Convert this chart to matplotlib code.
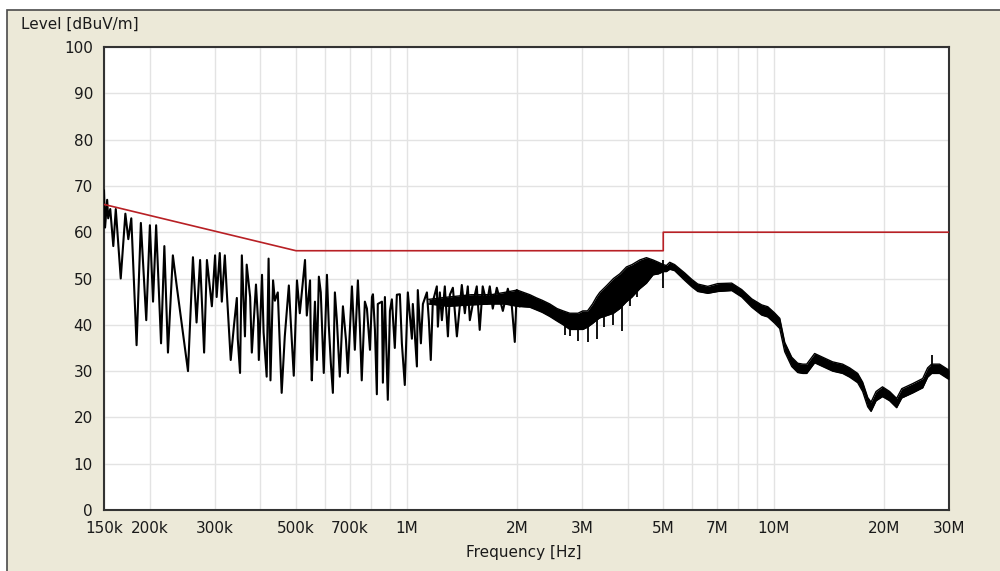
import numpy as np
import matplotlib.pyplot as plt
from matplotlib.patches import Rectangle

# spiky part of the measured trace, 150 kHz .. 2 MHz (kHz, dBuV/m)
trace_khz = [150, 151, 153, 154, 156, 159, 161.5, 166.6, 171.5, 174.7, 178, 184, 189, 195.5,
             200, 204, 208, 214.5, 219, 224, 231, 237, 254, 262, 268, 274, 281,
             286, 295, 301, 304, 310, 314, 320, 324, 332, 339, 345, 347, 352, 356, 363,
             367, 375, 379, 389, 394, 396, 404, 408, 416, 421, 426, 433, 438, 446, 457,
             466, 472, 478, 484, 493, 503, 512, 529, 535, 546,
             549, 552, 563, 570, 577, 584, 595, 607, 614, 622, 630, 638, 646, 658, 671,
             684, 692, 710, 723, 732, 737, 746, 755, 770, 780, 795, 805, 810, 820, 830,
             835, 857, 862, 873, 889, 901, 912, 929, 941, 959, 971, 989, 1008, 1034,
             1040, 1067, 1073, 1094, 1108, 1136, 1150, 1164, 1179, 1209, 1217, 1232,
             1248, 1271, 1296, 1312, 1337, 1371, 1414, 1441, 1468, 1487, 1515, 1553,
             1582, 1612, 1654, 1685, 1717, 1761, 1829, 1887, 1935, 1971, 1996, 2034]
trace_db = [69, 61, 67, 63, 65, 57, 65, 50, 64, 58.5, 63, 35.6, 62, 41,
            61.5, 45, 61.5, 36, 57, 34, 55, 48, 30, 54.6, 40.5, 54, 34,
            54, 44, 55, 46, 55.5, 45, 55, 47, 32.4, 40, 45.8, 37, 29.6, 55, 37.5,
            53, 46, 34, 48.7, 41, 32.4, 50.8, 38.4, 28.8, 54.3, 28, 49.6, 45.2, 47, 25.3,
            37.5, 43, 48.5, 40.4, 29, 49.6, 42.5, 54, 42, 49.6,
            34, 28, 45, 32.4, 50.4, 47, 29.6, 50.8, 40, 31.7, 25.3, 47, 41, 28.8, 44,
            36.7, 29.6, 48.3, 34.6, 44, 49.6, 40, 28, 45, 43.5, 34.6, 46, 46.6, 39, 25,
            44.5, 45, 27.5, 46, 23.8, 43, 45.5, 35, 46.5, 46.6, 36, 27, 47, 37,
            44.5, 31, 47.5, 36, 44.5, 47, 41, 32.4, 45, 48.3, 39.6, 47,
            41, 48.3, 37.5, 46.5, 48, 37.5, 48.6, 42.5, 48.3, 41, 44.5, 48.3,
            38.9, 48.3, 44.5, 48.3, 43.5, 48, 43, 47.8, 44, 36.3, 47.5, 44]

# dense band of the trace, 1.15 MHz .. 30 MHz (upper / lower edge)
band_khz = [1150, 1300, 1500, 1700, 1850, 2000, 2166, 2260, 2340, 2455, 2570, 2670, 2783,
            2930, 3020, 3110, 3210, 3290, 3358, 3510, 3660, 3807, 3970, 4110, 4315, 4500,
            4690, 4850, 5000, 5100, 5208, 5370, 5720, 5980, 6210, 6610, 7040, 7680, 8180,
            8710, 9270, 9630, 10040, 10380, 10710, 11190, 11620, 12000, 12290, 12920,
            13580, 14460, 15400, 16090, 16920, 17460, 18020, 18400, 18990, 19770, 20670,
            21600, 22310, 23900, 25440, 26240, 26900, 28290, 30000]
band_hi = [45.5, 46, 46.5, 46.5, 47, 47.5, 46.5, 45.8, 45.3, 44.5, 43.5, 43, 42.5,
           42.5, 43, 43, 44.5, 46, 47, 48.5, 50, 51, 52.5, 53, 54, 54.5,
           54, 53.5, 53, 52.8, 53.5, 53, 51.2, 49.8, 48.8, 48.3, 48.9, 49, 47.6,
           45.6, 44.3, 43.9, 42.6, 41.4, 36.2, 33, 31.7, 31.5, 31.5, 33.8,
           33, 32, 31.5, 30.7, 29.5, 27.6, 24.3, 23.3, 25.6, 26.6, 25.6,
           24.1, 26.2, 27.3, 28.4, 30.7, 31.5, 31.5, 30.2]
band_lo = [44.5, 44, 44.3, 44.5, 44.5, 44, 43.8, 43.2, 42.7, 41.8, 40.8, 40, 39,
           39, 39, 39.5, 40.3, 41, 41.5, 42, 42.5, 43.5, 45, 46, 47.8, 49,
           50.8, 51, 51.5, 51.5, 52, 51.7, 49.6, 48.2, 47.2, 46.8, 47.2, 47.4, 46,
           43.8, 42.1, 41.7, 40.4, 39.2, 34.2, 31, 29.7, 29.5, 29.5, 31.8,
           31, 30, 29.5, 28.7, 27.5, 25.6, 22.3, 21.3, 23.6, 24.5, 23.6,
           22.1, 24.2, 25.3, 26.4, 28.7, 29.5, 29.5, 28.2]

# single spikes sticking out of the band
spike_khz = [2700, 2780, 2930, 3110, 3300, 3450, 3650, 3850, 4050, 4250, 5000, 26900]
spike_top = [41, 41, 42, 42, 42, 44, 45, 49.7, 49, 51, 54, 33.5]
spike_bot = [37.8, 37.5, 36.6, 36.3, 37, 39.5, 40, 38.6, 44, 46, 48, 30]

# limit line
limit_khz = [150, 500, 5000, 5000, 30000]
limit_db = [66, 56, 56, 60, 60]

grid_khz = [150, 200, 300, 400, 500, 600, 700, 800, 900, 1000, 2000, 3000, 4000, 5000,
            6000, 7000, 8000, 9000, 10000, 20000, 30000]
grid_labels = ['150k', '200k', '300k', '', '500k', '', '700k', '', '', '1M', '2M', '3M', '',
               '5M', '', '7M', '', '', '10M', '20M', '30M']

beige = '#ECE9D8'
txt = '#1a1a1a'
fs = 11

fig = plt.figure(figsize=(10, 5.71), dpi=100)
fig.patch.set_facecolor('white')
panel = Rectangle((0.007, -0.01), 1.0, 0.9925, transform=fig.transFigure,
                  facecolor=beige, edgecolor='#4a4a4a', lw=1.2, zorder=-10)
fig.add_artist(panel)

ax = fig.add_axes([0.104, 0.1068, 0.845, 0.8109])
ax.set_facecolor('white')
ax.set_xscale('log')

f_tr = np.array(trace_khz) * 1e3
f_band = np.array(band_khz) * 1e3
ax.fill_between(f_band, band_lo, band_hi, color='black', lw=0, zorder=3)
ax.plot(f_band, band_hi, color='black', lw=1.0, zorder=3)
ax.plot(f_band, band_lo, color='black', lw=1.0, zorder=3)
ax.plot(f_tr, trace_db, color='black', lw=1.5, zorder=3)
ax.vlines(np.array(spike_khz) * 1e3, spike_bot, spike_top, color='black', lw=1.3, zorder=3)
ax.plot(np.array(limit_khz) * 1e3, limit_db, color='#B82025', lw=1.2, zorder=4)

ax.set_xlim(150e3, 30e6)
ax.set_ylim(0, 100)
ax.set_xticks(np.array(grid_khz) * 1e3)
ax.set_xticklabels(grid_labels)
ax.xaxis.set_minor_locator(plt.NullLocator())
ax.set_yticks(range(0, 101, 10))
ax.grid(True, color='#E3E3E3', lw=1.0, zorder=0)
ax.set_axisbelow(True)
ax.tick_params(length=0, pad=8, labelsize=fs, labelcolor=txt)
for s in ax.spines.values():
    s.set_color('#333333')
    s.set_linewidth(1.5)

fig.text(0.021, 1 - 24 / 571, 'Level [dBuV/m]', fontsize=fs, color=txt, va='center')
fig.text(0.524, 1 - 552 / 571, 'Frequency [Hz]', fontsize=fs, color=txt, ha='center', va='center')

plt.savefig('out.png', dpi=100, facecolor=fig.get_facecolor())
